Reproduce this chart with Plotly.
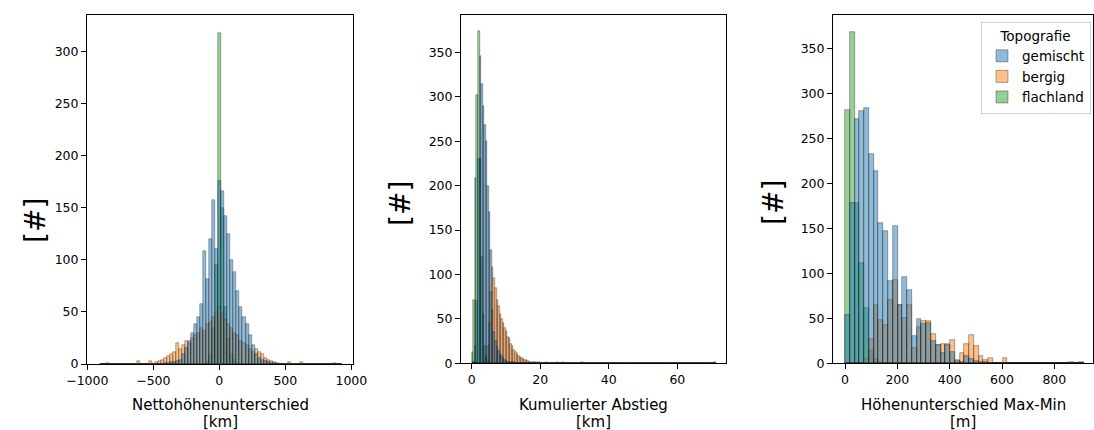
import plotly.graph_objects as go

# ---------------------------------------------------------------
# Histogram counts per Topografie class (common bins per panel)
# ---------------------------------------------------------------

# Nettohöhenunterschied [km]: 80 bins
netto_start = -901.0
netto_width = 22.9
netto_gemischt = (
    [0] * 20
    + [0, 1, 1, 2, 2, 3, 4, 10, 15, 22,
       30, 38, 45, 58, 108, 82, 120, 157, 110, 176,
       166, 142, 125, 100, 88, 70, 55, 45, 38, 28,
       18, 10, 6, 4, 3, 2, 1, 1, 0, 0]
    + [0] * 20
)
netto_bergig = (
    [0, 0, 1, 0, 0, 0, 0, 0, 0, 0,
     0, 0, 3, 0, 0, 0, 3, 0, 2, 3,
     4, 6, 8, 10, 12, 20, 14, 18, 22, 20,
     25, 28, 30, 35, 32, 38, 40, 45, 50, 55,
     48, 42, 38, 35, 30, 28, 22, 20, 18, 14,
     12, 14, 12, 10, 6, 4, 3, 2, 1, 0,
     0, 0, 2, 0, 0, 0, 2, 0, 0, 0,
     0, 0, 0, 0, 0, 0, 0, 1, 0, 0]
)
netto_flachland = (
    [0] * 35
    + [2, 8, 35, 95, 318, 150, 55, 25, 10, 4, 1]
    + [0] * 34
)

# Kumulierter Abstieg [km]: 158 bins
abstieg_start = 0.05
abstieg_width = 0.45
abstieg_gemischt = (
    [0, 2, 20, 70, 230, 346, 314, 290, 268, 250,
     200, 170, 128, 60, 35, 25, 18, 14, 10, 8,
     6, 4, 3, 2, 2, 1, 1, 1]
    + [0] * 130
)
abstieg_bergig = (
    [0, 0, 0, 0, 0, 0, 0, 0, 3, 8,
     20, 45, 80, 108, 96, 85, 71, 65, 55, 50,
     45, 40, 36, 30, 28, 22, 19, 15, 13, 10,
     8, 7, 6, 5, 4, 4, 3, 2, 2, 1,
     1, 1, 0, 1, 0, 0, 0, 0, 2, 0,
     0, 0, 0, 0, 0, 2, 0, 0, 0, 2,
     0, 0, 0, 0, 0, 0, 0, 0, 0, 0,
     0, 1]
    + [0] * 85
    + [1]
)
abstieg_flachland = (
    [13, 71, 208, 302, 374, 230, 120, 55, 20, 8, 3, 1]
    + [0] * 146
)

# Höhenunterschied Max-Min [m]: 50 bins
maxmin_start = 0.0
maxmin_width = 18.25
maxmin_gemischt = (
    [54, 178, 271, 280, 284, 233, 214, 156, 147, 92,
     153, 65, 96, 82, 30, 49, 44, 45, 25, 20,
     12, 20, 13, 3, 2, 8, 5, 3, 2, 1]
    + [0] * 20
)
maxmin_bergig = (
    [0, 0, 0, 0, 5, 27, 65, 48, 43, 70,
     93, 65, 50, 65, 17, 40, 47, 47, 33, 20,
     22, 21, 26, 4, 11, 22, 31, 19, 8, 4,
     6, 0, 0, 6, 0, 0, 0, 0, 0, 0,
     0, 0, 0, 0, 0, 0, 0, 1, 0, 2]
)
maxmin_flachland = (
    [282, 368, 178, 112, 61, 15, 5, 2]
    + [0] * 42
)

x_titles = [("Nettohöhenunterschied", "[km]"),
            ("Kumulierter Abstieg", "[km]"),
            ("Höhenunterschied Max-Min", "[m]")]
y_title = "[#]"
legend_title = "Topografie"
class_order = ["gemischt", "bergig", "flachland"]

panels = [
    (netto_start, netto_width,
     {"gemischt": netto_gemischt, "bergig": netto_bergig, "flachland": netto_flachland}),
    (abstieg_start, abstieg_width,
     {"gemischt": abstieg_gemischt, "bergig": abstieg_bergig, "flachland": abstieg_flachland}),
    (maxmin_start, maxmin_width,
     {"gemischt": maxmin_gemischt, "bergig": maxmin_bergig, "flachland": maxmin_flachland}),
]

# ---------------------------------------------------------------
# Styling / geometry
# ---------------------------------------------------------------
W, H = 1094, 430
FONT = "DejaVu Sans"
fill = {
    "gemischt": "rgba(31,119,180,0.5)",
    "bergig": "rgba(255,127,14,0.5)",
    "flachland": "rgba(44,160,44,0.5)",
}
# axes boxes in pixels: (left, right, top, bottom)
boxes = [(87, 353, 15, 364), (461, 726, 15, 363.3), (833, 1093, 15, 363.3)]
x_ranges = [[-1002.5, 1012.6], [-3.11, 74.2], [-45.9, 947.8]]
y_ranges = [[0, 335], [0, 392], [0, 387]]
x_ticks = [[-1000, -500, 0, 500, 1000], [0, 20, 40, 60], [0, 200, 400, 600, 800]]
edge_width = [0.5, 0.5, 0.6]
edge_color = ["rgba(0,0,0,0.6)", "rgba(0,0,0,0.6)", "rgba(0,0,0,0.55)"]
# centre of the rotated "[#]" label, pixels
ylabel_pos = [(36, 221), (400, 204), (773, 203)]

fig = go.Figure()

# draw bottom to top: flachland, bergig, gemischt
for i, (start, width, series) in enumerate(panels):
    ax = "" if i == 0 else str(i + 1)
    for name in ["flachland", "bergig", "gemischt"]:
        counts = series[name]
        centers = [start + width * (k + 0.5) for k in range(len(counts))]
        fig.add_trace(go.Bar(
            x=centers, y=counts, width=[width] * len(counts),
            name=name, legendgroup=name,
            legendrank=class_order.index(name) + 1,
            showlegend=(i == 2),
            marker=dict(color=fill[name],
                        line=dict(width=edge_width[i], color=edge_color[i])),
            xaxis="x" + ax, yaxis="y" + ax,
        ))

axis_common = dict(
    showline=True, linecolor="black", linewidth=1, mirror=True,
    ticks="outside", ticklen=5, tickwidth=1, tickcolor="black",
    showgrid=False, zeroline=False, automargin=False,
    tickfont=dict(family=FONT, size=12.5, color="black"),
)

layout = dict(
    width=W, height=H,
    margin=dict(l=0, r=0, t=0, b=0, autoexpand=False),
    paper_bgcolor="white", plot_bgcolor="white",
    barmode="overlay", bargap=0,
    font=dict(family=FONT, color="black"),
    legend=dict(
        title=dict(text=legend_title, side="top center",
                   font=dict(family=FONT, size=13.5, color="black")),
        font=dict(family=FONT, size=13.5, color="black"),
        x=1091 / W, xanchor="right", y=1 - 22 / H, yanchor="top",
        bgcolor="rgba(255,255,255,0.8)", bordercolor="#d0d0d0", borderwidth=1,
        tracegroupgap=0,
    ),
)

annotations = []
for i, (l, r, t, b) in enumerate(boxes):
    ax = "" if i == 0 else str(i + 1)
    layout["xaxis" + ax] = dict(
        axis_common, domain=[l / W, r / W], range=x_ranges[i],
        tickvals=x_ticks[i], anchor="y" + ax,
    )
    layout["yaxis" + ax] = dict(
        axis_common, domain=[1 - b / H, 1 - t / H], range=y_ranges[i],
        dtick=50, anchor="x" + ax,
    )
    for line_text, line_y in zip(x_titles[i], (405, 422)):
        annotations.append(dict(
            text=line_text, xref="paper", yref="paper",
            x=(l + r) / 2 / W, y=1 - line_y / H, xanchor="center", yanchor="middle",
            showarrow=False, font=dict(family=FONT, size=15, color="black"),
        ))
    lx, ly = ylabel_pos[i]
    annotations.append(dict(
        text=y_title, xref="paper", yref="paper",
        x=lx / W, y=1 - ly / H, xanchor="center", yanchor="middle",
        textangle=-90, showarrow=False,
        font=dict(family=FONT, size=28, color="black"),
    ))
layout["annotations"] = annotations

fig.update_layout(**layout)
fig.write_html("out.html")
